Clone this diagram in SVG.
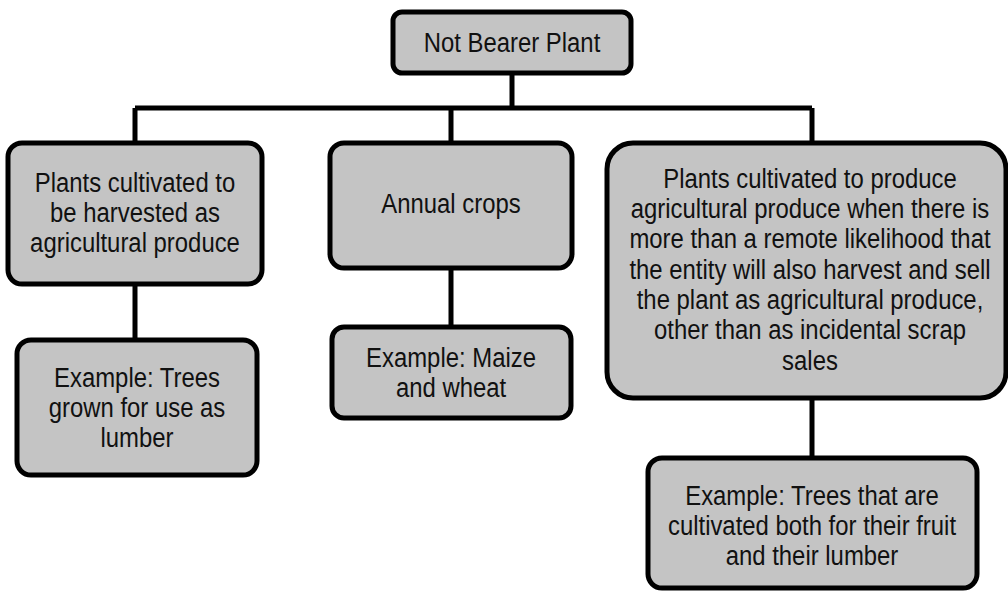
<svg xmlns="http://www.w3.org/2000/svg" width="1008" height="591" viewBox="0 0 1008 591">
<style>
.box{fill:#c4c4c4;stroke:#000;stroke-width:5}
.lbl{font-family:"Liberation Sans",Arial,sans-serif;font-size:27px;fill:#111;text-anchor:middle}
.con{stroke:#000;stroke-width:5;fill:none}
</style>
<rect width="1008" height="591" fill="#fff"/>
<g id="connectors">
<path class="con" d="M512 73V108M135 108H812M135 108V143M451 108V143M812 108V143"/>
<path class="con" d="M135 284V340M451 268V327M812 398V458"/>
</g>
<g id="root">
<rect class="box" x="393" y="12" width="238" height="61" rx="9"/>
<g transform="translate(512 0) scale(0.885 1)"><text class="lbl" x="0" y="52">Not Bearer Plant</text></g>
</g>
<g id="harvested">
<rect class="box" x="8" y="143" width="254" height="141" rx="14"/>
<g transform="translate(135 0) scale(0.885 1)">
<text class="lbl" x="0" y="192">Plants cultivated to</text>
<text class="lbl" x="0" y="222">be harvested as</text>
<text class="lbl" x="0" y="252">agricultural produce</text>
</g>
</g>
<g id="annual">
<rect class="box" x="330" y="143" width="242" height="125" rx="14"/>
<g transform="translate(451 0) scale(0.885 1)"><text class="lbl" x="0" y="213">Annual crops</text></g>
</g>
<g id="dual">
<rect class="box" x="607" y="143" width="399" height="255" rx="26"/>
<g transform="translate(810 0) scale(0.885 1)">
<text class="lbl" x="0" y="188">Plants cultivated to produce</text>
<text class="lbl" x="0" y="218">agricultural produce when there is</text>
<text class="lbl" x="0" y="248">more than a remote likelihood that</text>
<text class="lbl" x="0" y="279">the entity will also harvest and sell</text>
<text class="lbl" x="0" y="309">the plant as agricultural produce,</text>
<text class="lbl" x="0" y="339">other than as incidental scrap</text>
<text class="lbl" x="0" y="370">sales</text>
</g>
</g>
<g id="ex-lumber">
<rect class="box" x="17" y="340" width="240" height="135" rx="14"/>
<g transform="translate(137 0) scale(0.885 1)">
<text class="lbl" x="0" y="387">Example: Trees</text>
<text class="lbl" x="0" y="417">grown for use as</text>
<text class="lbl" x="0" y="447">lumber</text>
</g>
</g>
<g id="ex-maize">
<rect class="box" x="332" y="327" width="239" height="91" rx="12"/>
<g transform="translate(451 0) scale(0.885 1)">
<text class="lbl" x="0" y="367">Example: Maize</text>
<text class="lbl" x="0" y="397">and wheat</text>
</g>
</g>
<g id="ex-fruit">
<rect class="box" x="648" y="458" width="329" height="130" rx="14"/>
<g transform="translate(812 0) scale(0.885 1)">
<text class="lbl" x="0" y="505">Example: Trees that are</text>
<text class="lbl" x="0" y="535">cultivated both for their fruit</text>
<text class="lbl" x="0" y="565">and their lumber</text>
</g>
</g>
</svg>
